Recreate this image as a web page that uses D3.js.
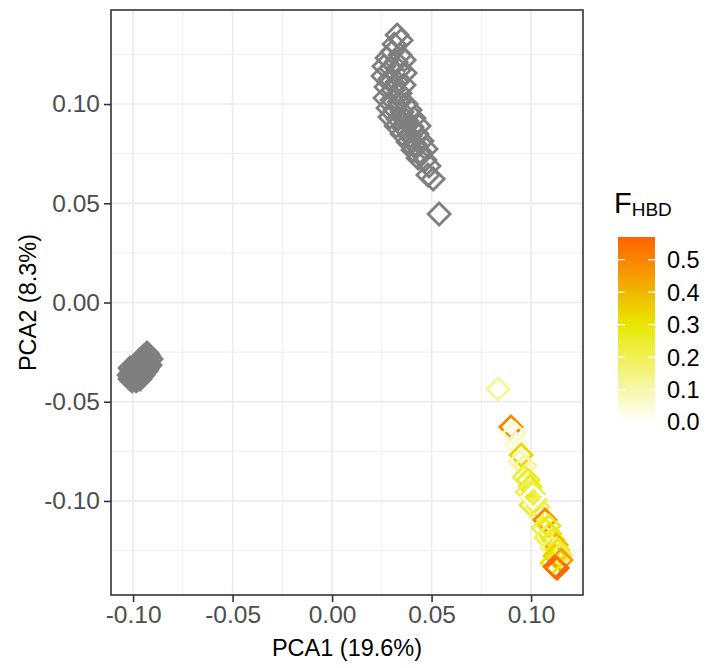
<!DOCTYPE html>
<html>
<head>
<meta charset="utf-8">
<script src="https://cdn.jsdelivr.net/npm/d3@7"></script>
<style>
  body { margin: 0; background: #fff; }
  text { font-family: "Liberation Sans", Arial, sans-serif; }
</style>
</head>
<body>
<svg id="chart"></svg>
<script>
// upper grey group (no F value)
const topX = [0.0327, 0.0347, 0.0312, 0.0302, 0.0342, 0.0276, 0.0322, 0.0362, 0.0261, 0.0296,
  0.0337, 0.0367, 0.0256, 0.0291, 0.0327, 0.0362, 0.0271, 0.0307, 0.0342, 0.0266,
  0.0302, 0.0337, 0.0372, 0.0281, 0.0317, 0.0352, 0.0392, 0.0291, 0.0332, 0.0372,
  0.0412, 0.0322, 0.0362, 0.0402, 0.0437, 0.0352, 0.0392, 0.0427, 0.0382, 0.0417,
  0.0452, 0.0407, 0.0442, 0.0472, 0.0432, 0.0467, 0.0487, 0.0482, 0.0508, 0.0538];
const topY = [0.1348, 0.1322, 0.1302, 0.1262, 0.1247, 0.1232, 0.1212, 0.1222, 0.1191, 0.1181,
  0.1171, 0.1156, 0.1141, 0.1126, 0.1111, 0.1096, 0.1086, 0.1071, 0.1055, 0.1030,
  0.1020, 0.1010, 0.1000, 0.0980, 0.0970, 0.0960, 0.0970, 0.0935, 0.0924, 0.0919,
  0.0929, 0.0889, 0.0879, 0.0884, 0.0889, 0.0849, 0.0839, 0.0849, 0.0809, 0.0798,
  0.0814, 0.0768, 0.0758, 0.0773, 0.0728, 0.0718, 0.0688, 0.0642, 0.0622, 0.0446];

// left grey group
const leftX = [-0.1015, -0.1005, -0.1010, -0.1000, -0.1015, -0.0995, -0.0990, -0.0985, -0.0990, -0.0980,
  -0.0975, -0.0970, -0.0975, -0.0965, -0.0960, -0.0955, -0.0960, -0.0950, -0.0945, -0.0940,
  -0.0945, -0.0935, -0.0930, -0.0925, -0.0930, -0.0920, -0.0915, -0.0910, -0.0985, -0.1020,
  -0.1005, -0.0995, -0.0980, -0.0985, -0.0970, -0.0965, -0.0955, -0.0950, -0.0940, -0.0935,
  -0.0925, -0.0920, -0.1010, -0.0975, -0.0960, -0.0945];
const leftY = [-0.0385, -0.0395, -0.0355, -0.0370, -0.0330, -0.0345, -0.0380, -0.0360, -0.0320, -0.0335,
  -0.0375, -0.0350, -0.0300, -0.0320, -0.0365, -0.0335, -0.0285, -0.0305, -0.0350, -0.0320,
  -0.0270, -0.0290, -0.0335, -0.0305, -0.0255, -0.0275, -0.0315, -0.0285, -0.0395, -0.0365,
  -0.0340, -0.0365, -0.0390, -0.0310, -0.0330, -0.0385, -0.0295, -0.0365, -0.0275, -0.0345,
  -0.0265, -0.0320, -0.0375, -0.0355, -0.0310, -0.0330];

// coloured group with F_HBD
const hbdX = [0.0834, 0.0899, 0.0915, 0.0925, 0.0950, 0.0945, 0.0970, 0.0965, 0.0985, 0.0995,
  0.0980, 0.1010, 0.1020, 0.1000, 0.1035, 0.1045, 0.1070, 0.1060, 0.1090, 0.1095,
  0.1075, 0.1111, 0.1126, 0.1106, 0.1136, 0.1121, 0.1146, 0.1151, 0.1131, 0.1106, 0.1121, 0.1010];
const hbdY = [-0.0436, -0.0627, -0.0657, -0.0713, -0.0768, -0.0803, -0.0823, -0.0879, -0.0894, -0.0929,
  -0.0955, -0.0965, -0.0995, -0.1020, -0.1030, -0.1071, -0.1096, -0.1136, -0.1126, -0.1166,
  -0.1186, -0.1196, -0.1222, -0.1237, -0.1247, -0.1277, -0.1272, -0.1297, -0.1338, -0.1312, -0.1332, -0.0980];
const hbdF = [0.12, 0.50, 0.08, 0.06, 0.33, 0.10, 0.12, 0.22, 0.25, 0.28,
  0.20, 0.24, 0.22, 0.26, 0.20, 0.18, 0.50, 0.22, 0.28, 0.30,
  0.20, 0.25, 0.40, 0.15, 0.28, 0.35, 0.22, 0.45, 0.57, 0.30, 0.55, 0.00];

const xTicks = [-0.10, -0.05, 0.00, 0.05, 0.10];
const yTicks = [-0.10, -0.05, 0.00, 0.05, 0.10];
const legendBreaks = [0.0, 0.1, 0.2, 0.3, 0.4, 0.5];

let width = 711;
let height = 668;
let panel = { left: 111, right: 583, top: 10, bottom: 595 };

let svg = d3.select('#chart').attr('width', width).attr('height', height);
svg.append('rect').attr('width', width).attr('height', height).attr('fill', '#fff');

let xScale = d3.scaleLinear().domain([-0.1111, 0.1261]).range([panel.left, panel.right]);
let yScale = d3.scaleLinear().domain([-0.1474, 0.1474]).range([panel.bottom, panel.top]);

let fMax = d3.max(hbdF);
let colour = d3.scaleLinear()
  .domain([0, 0.3, fMax])
  .range(['#ffffff', '#e8e800', '#ff6200'])
  .interpolate(d3.interpolateRgb);

// grid: minor first, then major
let minor = (ticks, dom) => {
  let step = ticks[1] - ticks[0];
  let out = [];
  for (let v = ticks[0] - step / 2; v <= dom[1]; v += step) {
    if (v >= dom[0]) out.push(v);
  }
  return out;
};
let grid = svg.append('g');
grid.selectAll('.vmin').data(minor(xTicks, xScale.domain())).enter().append('line')
  .attr('x1', d => xScale(d)).attr('x2', d => xScale(d))
  .attr('y1', panel.top).attr('y2', panel.bottom)
  .attr('stroke', '#ebebeb').attr('stroke-width', 0.8);
grid.selectAll('.hmin').data(minor(yTicks, yScale.domain())).enter().append('line')
  .attr('y1', d => yScale(d)).attr('y2', d => yScale(d))
  .attr('x1', panel.left).attr('x2', panel.right)
  .attr('stroke', '#ebebeb').attr('stroke-width', 0.8);
grid.selectAll('.vmaj').data(xTicks).enter().append('line')
  .attr('x1', d => xScale(d)).attr('x2', d => xScale(d))
  .attr('y1', panel.top).attr('y2', panel.bottom)
  .attr('stroke', '#ebebeb').attr('stroke-width', 1.6);
grid.selectAll('.hmaj').data(yTicks).enter().append('line')
  .attr('y1', d => yScale(d)).attr('y2', d => yScale(d))
  .attr('x1', panel.left).attr('x2', panel.right)
  .attr('stroke', '#ebebeb').attr('stroke-width', 1.6);

// hollow diamonds (ggplot shape 5)
let diamond = {
  draw(ctx, size) {
    let r = Math.sqrt(size) / 2;
    ctx.moveTo(0, -r);
    ctx.lineTo(r, 0);
    ctx.lineTo(0, r);
    ctx.lineTo(-r, 0);
    ctx.closePath();
  }
};
let sym = d3.symbol().type(diamond).size(484);

let greyPts = topX.map((x, i) => [x, topY[i]]).concat(leftX.map((x, i) => [x, leftY[i]]));
let hbdPts = hbdX.map((x, i) => [x, hbdY[i], hbdF[i]]);

let pts = svg.append('g');
pts.selectAll('.grey').data(greyPts).enter().append('path')
  .attr('d', sym)
  .attr('transform', d => `translate(${xScale(d[0])},${yScale(d[1])})`)
  .attr('fill', 'none').attr('stroke', '#7f7f7f').attr('stroke-width', 2.8);
pts.selectAll('.hbd').data(hbdPts).enter().append('path')
  .attr('d', sym)
  .attr('transform', d => `translate(${xScale(d[0])},${yScale(d[1])})`)
  .attr('fill', 'none').attr('stroke', d => colour(d[2])).attr('stroke-width', 2.8);

// panel border
svg.append('rect')
  .attr('x', panel.left).attr('y', panel.top)
  .attr('width', panel.right - panel.left).attr('height', panel.bottom - panel.top)
  .attr('fill', 'none').attr('stroke', '#333333').attr('stroke-width', 1.6);

// axes
let xAxis = d3.axisBottom(xScale).tickValues(xTicks).tickSize(7).tickPadding(4);
let yAxis = d3.axisLeft(yScale).tickValues(yTicks).tickSize(7).tickPadding(4);

let gx = svg.append('g').attr('transform', `translate(0,${panel.bottom})`).call(xAxis);
let gy = svg.append('g').attr('transform', `translate(${panel.left},0)`).call(yAxis);
[gx, gy].forEach(g => {
  g.select('.domain').remove();
  g.selectAll('.tick line').attr('stroke', '#333333').attr('stroke-width', 1.6);
  g.selectAll('.tick text').attr('fill', '#4d4d4d').style('font-size', '24.5px')
    .text(d => d3.format('.2f')(d).replace('−', '-'));
});

svg.append('text')
  .attr('x', (panel.left + panel.right) / 2).attr('y', 656)
  .attr('text-anchor', 'middle').style('font-size', '23.5px').attr('fill', '#000')
  .text('PCA1 (19.6%)');
svg.append('text')
  .attr('transform', `translate(36,${(panel.top + panel.bottom) / 2}) rotate(-90)`)
  .attr('text-anchor', 'middle').style('font-size', '23.5px').attr('fill', '#000')
  .text('PCA2 (8.3%)');

// legend colourbar
let bar = { left: 618, right: 655, top: 237, bottom: 422 };
let barScale = d3.scaleLinear().domain([0, fMax]).range([bar.bottom, bar.top]);

let defs = svg.append('defs');
let grad = defs.append('linearGradient').attr('id', 'fgrad')
  .attr('x1', 0).attr('y1', 1).attr('x2', 0).attr('y2', 0);
grad.selectAll('stop').data(d3.range(0, 21).map(i => i / 20 * fMax)).enter().append('stop')
  .attr('offset', d => d / fMax)
  .attr('stop-color', d => colour(d));

let leg = svg.append('g');
leg.append('rect')
  .attr('x', bar.left).attr('y', bar.top)
  .attr('width', bar.right - bar.left).attr('height', bar.bottom - bar.top)
  .attr('fill', 'url(#fgrad)');
leg.selectAll('.tl').data(legendBreaks).enter().append('line')
  .attr('x1', bar.left).attr('x2', bar.left + 7)
  .attr('y1', d => barScale(d)).attr('y2', d => barScale(d))
  .attr('stroke', '#fff').attr('stroke-width', 1.2);
leg.selectAll('.tr').data(legendBreaks).enter().append('line')
  .attr('x1', bar.right - 7).attr('x2', bar.right)
  .attr('y1', d => barScale(d)).attr('y2', d => barScale(d))
  .attr('stroke', '#fff').attr('stroke-width', 1.2);
leg.selectAll('.lab').data(legendBreaks).enter().append('text')
  .attr('x', 667).attr('y', d => barScale(d))
  .attr('dy', '0.36em')
  .style('font-size', '23.5px').attr('fill', '#000')
  .text(d => d3.format('.1f')(d));

let title = leg.append('text').attr('x', 614).attr('y', 213).attr('fill', '#000');
title.append('tspan').style('font-size', '29px').text('F');
title.append('tspan').style('font-size', '19px').attr('dy', 3).text('HBD');
</script>
</body>
</html>
